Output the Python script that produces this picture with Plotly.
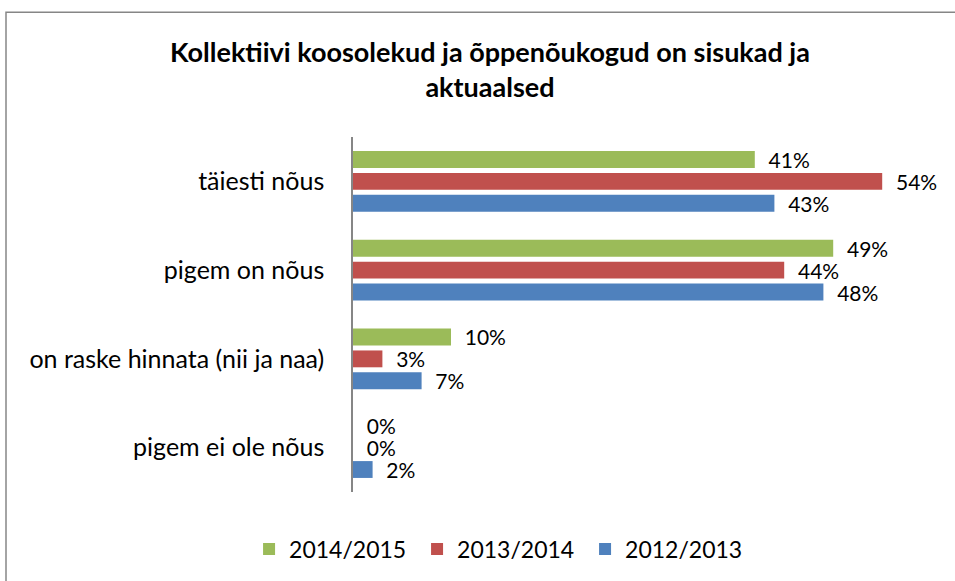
import plotly.graph_objects as go

categories = ["täiesti nõus", "pigem on nõus", "on raske hinnata (nii ja naa)", "pigem ei ole nõus"]
series_names = ["2014/2015", "2013/2014", "2012/2013"]
v_2014_2015 = [41, 49, 10, 0]
v_2013_2014 = [54, 44, 3, 0]
v_2012_2013 = [43, 48, 7, 2]
colors = ["#9BBB59", "#C0504D", "#4F81BD"]

FONT = "Lato, Calibri, Carlito, sans-serif"

fig = go.Figure()
for name, vals, col in zip(series_names, [v_2014_2015, v_2013_2014, v_2012_2013], colors):
    fig.add_trace(go.Bar(
        y=categories, x=vals, name=name, orientation="h",
        marker=dict(color=col, line=dict(width=0)),
        text=[f"  {v}%" for v in vals], textposition="outside",
        textfont=dict(size=21, color="#000000", family=FONT),
        constraintext="none", cliponaxis=False,
    ))

L, R, T, B = 353, 941, 137, 493
W, H = 955, 581
pw, ph = R - L, B - T

fig.update_layout(
    width=W, height=H,
    margin=dict(l=L, r=W - R, t=T, b=H - B),
    paper_bgcolor="white", plot_bgcolor="white",
    barmode="group", bargap=0.26, bargroupgap=0.23,
    font=dict(family=FONT, size=22, color="#000000"),
    title=dict(
        text="<b>Kollektiivi koosolekud ja õppenõukogud on sisukad ja<br>aktuaalsed</b>",
        x=(490 - L) / pw, xref="paper", xanchor="center",
        y=1 - 62 / H, yanchor="top",
        font=dict(size=27, family=FONT, color="#000000"),
    ),
    xaxis=dict(range=[0, 60], visible=False, fixedrange=True),
    yaxis=dict(
        autorange="reversed", showline=True, linecolor="#868686", linewidth=1.5,
        ticks="", showgrid=False, ticklabelstandoff=22, fixedrange=True,
        tickfont=dict(size=25, family=FONT, color="#000000"),
    ),
    legend=dict(
        orientation="h", x=(252 - L) / pw - 0.005, xanchor="left",
        y=(B - 549) / ph, yanchor="middle",
        font=dict(size=23, family=FONT), traceorder="normal",
        itemwidth=30, entrywidth=123, entrywidthmode="pixels",
    ),
    shapes=[dict(
        type="rect", xref="paper", yref="paper",
        x0=(6 - L) / pw, x1=(990 - L) / pw,
        y0=(B - 12) / ph, y1=(B - 620) / ph,
        line=dict(color="#868686", width=1.5), fillcolor="rgba(0,0,0,0)", layer="below",
    )],
)

fig.write_html("out.html", post_script="document.body.style.margin='0';",
               config={"displayModeBar": False})
